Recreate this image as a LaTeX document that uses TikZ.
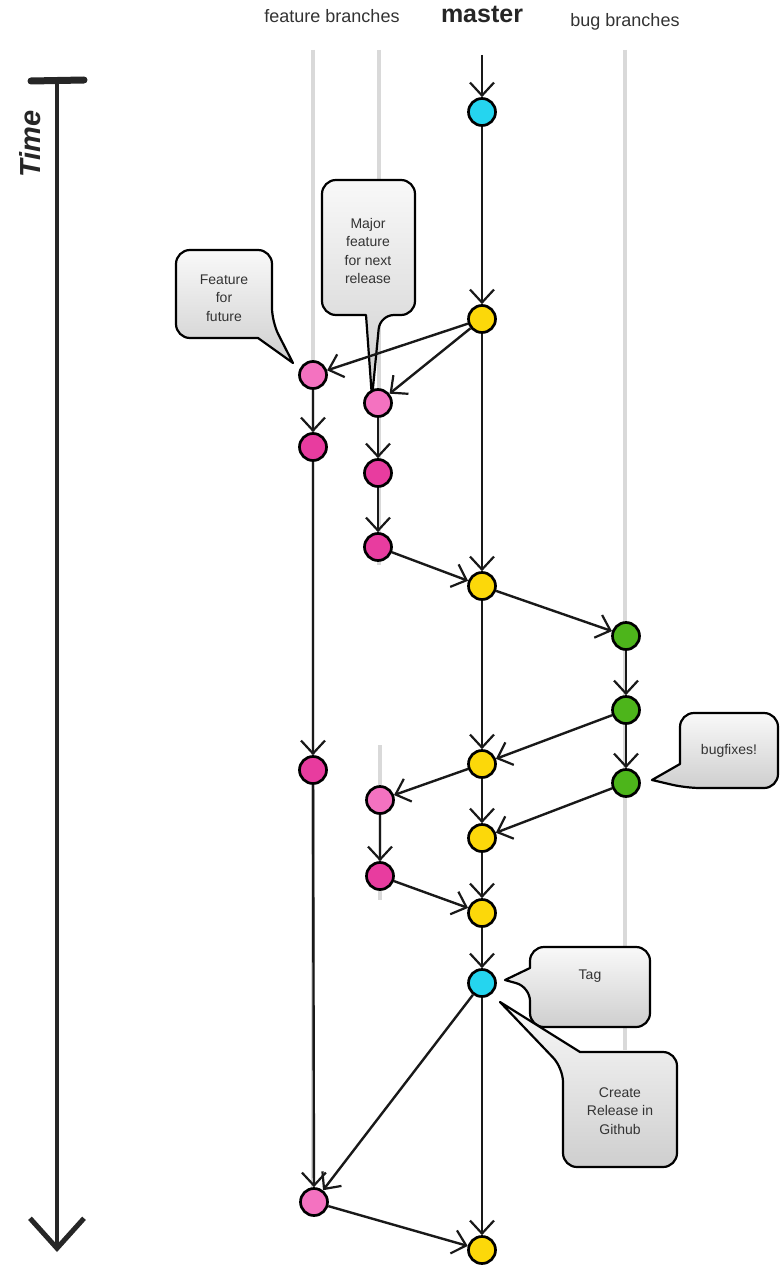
\documentclass[tikz,border=0pt]{standalone}
\usepackage{fontspec}
\setmainfont{Liberation Sans}
\usetikzlibrary{arrows.meta}
\definecolor{ccyan}{HTML}{25D5EF}
\definecolor{cyellow}{HTML}{FCD80A}
\definecolor{cgreen}{HTML}{4DB51B}
\definecolor{cpinkL}{HTML}{F472C0}
\definecolor{cpinkD}{HTML}{E83C9F}
\definecolor{cgrayline}{HTML}{D9D9D9}
\definecolor{ctext}{HTML}{333333}
\tikzset{
  commit/.style={circle, draw=black, line width=2.7pt, minimum size=27pt, inner sep=0pt},
  flow/.style={draw=black!90, line width=2.4pt, -{Straight Barb[length=13pt,width=24pt,line width=2.2pt]}},
  lane/.style={draw=cgrayline, line width=3.5pt},
  bubble/.style={draw=black, line width=2.2pt, top color=gray!5, bottom color=gray!38, line join=round},
  bubbletext/.style={align=center, text=ctext, font=\fontsize{14}{18.5}\selectfont},
  header/.style={anchor=base, font=\fontsize{18}{20}\selectfont, text=black!80},
}
\begin{document}
\begin{tikzpicture}[x=1pt,y=-1pt]
\useasboundingbox (0,0) rectangle (782,1268);
% background lanes
\draw[lane] (313,50) -- (313,1195);
\draw[lane] (379,50) -- (379,565);
\draw[lane] (380,745) -- (380,900);
\draw[lane] (625,50) -- (625,1050);
% headers
\node[header] (hfeat) at (332,23) {feature branches};
\node[header, font=\bfseries\fontsize{25}{27}\selectfont, text=black!85] (hmaster) at (482,23) {master};
\node[header] (hbug) at (625,27) {bug branches};
% time axis
\coordinate (ttop) at (57,84);
\coordinate (tbot) at (57,1252);
\draw[line width=7pt, line cap=round, black!85] (31,81) -- (84,80);
\draw[line width=3.2pt, black!85, -{Straight Barb[length=30pt,width=54pt,line width=5pt]}] (ttop) -- (tbot);
\node[rotate=90, font=\bfseries\itshape\fontsize{29}{29}\selectfont, text=black!85] (timelbl) at (30,144) {Time};
% callouts
\draw[bubble] (258,338) [rounded corners=14pt] -- (176,338) -- (176,250) -- (272,250) -- (272,322) [sharp corners] -- (293,363) -- cycle;
\draw[bubble] (366,315) [rounded corners=14pt] -- (322,315) -- (322,180) -- (415,180) -- (415,315) -- (380,315) [sharp corners] -- (372,398) -- cycle;
\draw[bubble] (680,764) [rounded corners=14pt] -- (680,713) -- (778,713) -- (778,788) -- (686,788) [sharp corners] -- (652,780) -- cycle;
\draw[bubble] (530,968) [rounded corners=14pt] -- (530,947) -- (650,947) -- (650,1027) -- (530,1027) -- (530,987) [sharp corners] -- (505,980) -- cycle;
\draw[bubble] (580,1052) [rounded corners=14pt] -- (677,1052) -- (677,1167) -- (563,1167) -- (563,1068) [sharp corners] -- (500,1002) -- cycle;
\node[bubbletext] (t1) at (224,298) {Feature\\for\\future};
\node[bubbletext] (t2) at (368,251) {Major\\feature\\for next\\release};
\node[bubbletext] (t3) at (729,751) {bugfixes!};
\node[bubbletext] (t4) at (590,976) {Tag};
\node[bubbletext] (t5) at (620,1111) {Create\\Release in\\Github};
% commits
\coordinate (mstart) at (482,55);
\node[commit, fill=ccyan] (m0) at (482,112) {};
\node[commit, fill=cyellow] (m1) at (482,319) {};
\node[commit, fill=cyellow] (m2) at (482,586) {};
\node[commit, fill=cyellow] (m3) at (482,764) {};
\node[commit, fill=cyellow] (m4) at (482,838) {};
\node[commit, fill=cyellow] (m5) at (482,913) {};
\node[commit, fill=ccyan] (m6) at (482,983) {};
\node[commit, fill=cyellow] (m7) at (482,1250) {};
\node[commit, fill=cpinkL] (f1a) at (313,375) {};
\node[commit, fill=cpinkD] (f1b) at (313,447) {};
\node[commit, fill=cpinkD] (f1c) at (313,770) {};
\node[commit, fill=cpinkL] (f1d) at (314,1202) {};
\node[commit, fill=cpinkL] (f2a) at (378,403) {};
\node[commit, fill=cpinkD] (f2b) at (378,473) {};
\node[commit, fill=cpinkD] (f2c) at (378,547) {};
\node[commit, fill=cpinkL] (f3a) at (380,800) {};
\node[commit, fill=cpinkD] (f3b) at (380,876) {};
\node[commit, fill=cgreen] (b1) at (626,636) {};
\node[commit, fill=cgreen] (b2) at (626,710) {};
\node[commit, fill=cgreen] (b3) at (626,783) {};
% connectors
\draw[flow] (mstart) -- (m0);
\draw[flow] (m0) -- (m1);
\draw[flow] (m1) -- (f1a);
\draw[flow] (m1) -- (f2a);
\draw[flow] (m1) -- (m2);
\draw[flow] (f1a) -- (f1b);
\draw[flow] (f1b) -- (f1c);
\draw[flow] (f1c) -- (f1d);
\draw[flow] (f2a) -- (f2b);
\draw[flow] (f2b) -- (f2c);
\draw[flow] (f2c) -- (m2);
\draw[flow] (m2) -- (b1);
\draw[flow] (m2) -- (m3);
\draw[flow] (b1) -- (b2);
\draw[flow] (b2) -- (b3);
\draw[flow] (b2) -- (m3);
\draw[flow] (b3) -- (m4);
\draw[flow] (m3) -- (m4);
\draw[flow] (m3) -- (f3a);
\draw[flow] (f3a) -- (f3b);
\draw[flow] (f3b) -- (m5);
\draw[flow] (m4) -- (m5);
\draw[flow] (m5) -- (m6);
\draw[flow] (m6) -- (f1d);
\draw[flow] (m6) -- (m7);
\draw[flow] (f1d) -- (m7);
\end{tikzpicture}
\end{document}
